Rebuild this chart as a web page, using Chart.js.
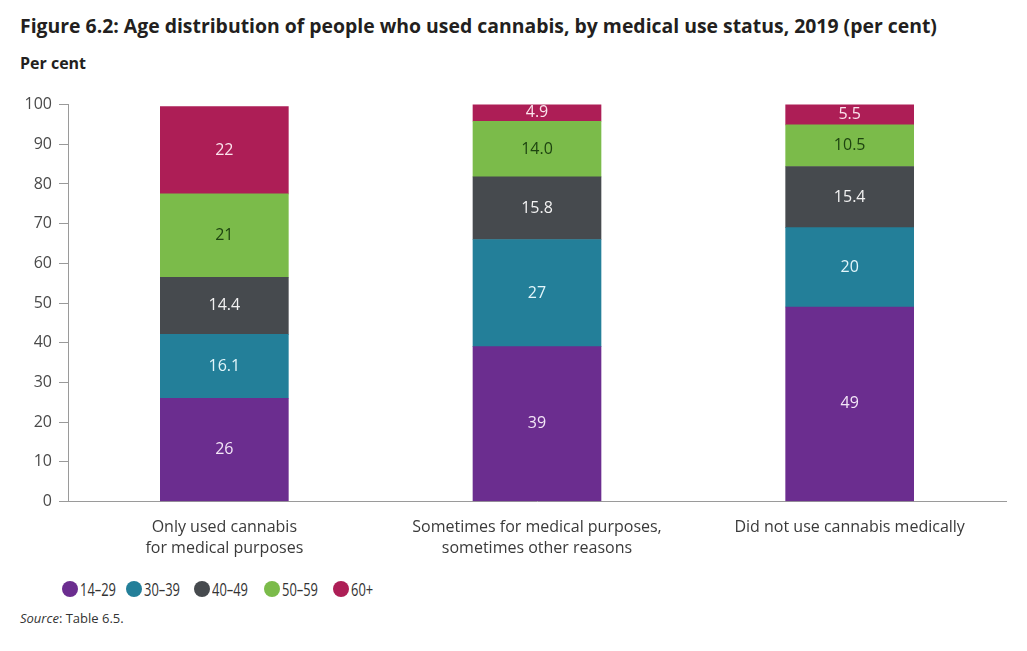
<!DOCTYPE html>
<html>
<head>
<meta charset="utf-8">
<script src="https://cdn.jsdelivr.net/npm/chart.js@4.4.1/dist/chart.umd.min.js"></script>
<style>
  body { margin: 0; width: 1027px; height: 651px; background: #fff; font-family: "Open Sans", sans-serif; position: relative; overflow: hidden; }
  .title { position: absolute; left: 20px; top: 12px; font-size: 19.4px; font-weight: 700; color: #231f20; white-space: nowrap; }
  .unit { position: absolute; left: 20px; top: 52px; font-size: 16px; font-weight: 700; color: #231f20; }
  #wrap { position: absolute; left: 0; top: 88px; width: 1027px; height: 487px; }
  #legend { position: absolute; left: 62px; top: 576px; display: flex; font-size: 19px; color: #333; }
  #legend .item { display: flex; align-items: center; height: 26px; }
  #legend .dot { width: 16px; height: 16px; border-radius: 50%; margin-right: 2px; flex: none; }
  #legend .txt { display: inline-block; transform: scaleX(0.68); transform-origin: left center; white-space: nowrap; }
  .source { position: absolute; left: 20px; top: 609px; font-size: 13px; color: #333; }
</style>
</head>
<body>
<div class="title">Figure 6.2: Age distribution of people who used cannabis, by medical use status, 2019 (per cent)</div>
<div class="unit">Per cent</div>
<div id="wrap"><canvas id="myChart"></canvas></div>
<div id="legend"></div>
<div class="source"><i>Source</i>: Table 6.5.</div>
<script>
// categories (x axis)
const categories = [
    ['Only used cannabis', 'for medical purposes'],
    ['Sometimes for medical purposes,', 'sometimes other reasons'],
    'Did not use cannabis medically'
];

// age groups
const ageGroups = ['14–29', '30–39', '40–49', '50–59', '60+'];

// series values (per cent)
const age1429 = [26, 39, 49];
const age3039 = [16.1, 27, 20];
const age4049 = [14.4, 15.8, 15.4];
const age5059 = [21, 14.0, 10.5];
const age60plus = [22, 4.9, 5.5];

// labels as printed on the bars
const text1429 = ['26', '39', '49'];
const text3039 = ['16.1', '27', '20'];
const text4049 = ['14.4', '15.8', '15.4'];
const text5059 = ['21', '14.0', '10.5'];
const text60plus = ['22', '4.9', '5.5'];

const yTicks = [0, 10, 20, 30, 40, 50, 60, 70, 80, 90, 100];

const colors = ['#6b2d8f', '#237f99', '#464a4e', '#7bbb4a', '#ad1e56'];
const labelColors = ['#f3e6f7', '#e3f6fb', '#f2f2f2', '#1e4410', '#fbe3ec'];
const legendWidths = [64, 68, 70, 69, 60];

const seriesValues = [age1429, age3039, age4049, age5059, age60plus];
const seriesTexts = [text1429, text3039, text4049, text5059, text60plus];

// draws the printed value in the middle of every segment
const segmentLabels = {
    id: 'segmentLabels',
    afterDatasetsDraw(chart) {
        const ctx = chart.ctx;
        ctx.save();
        ctx.font = '16px "Open Sans"';
        ctx.textAlign = 'center';
        ctx.textBaseline = 'middle';
        chart.data.datasets.forEach((ds, d) => {
            const meta = chart.getDatasetMeta(d);
            meta.data.forEach((bar, i) => {
                const top = Math.max(bar.y, chart.chartArea.top);
                ctx.fillStyle = labelColors[d];
                ctx.fillText(seriesTexts[d][i], bar.x, (top + bar.base) / 2);
            });
        });
        ctx.restore();
    }
};

function buildDatasets() {
    let datasets = [];
    for (let i = 0; i < ageGroups.length; i++) {
        datasets.push({
            label: ageGroups[i],
            data: seriesValues[i],
            backgroundColor: colors[i],
            borderWidth: 0,
            barThickness: 128
        });
    }
    return datasets;
}

function renderLegend() {
    let legendRef = document.getElementById('legend');
    legendRef.innerHTML = '';
    for (let i = 0; i < ageGroups.length; i++) {
        legendRef.innerHTML += `<div class="item" style="width:${legendWidths[i]}px"><span class="dot" style="background:${colors[i]}"></span><span class="txt">${ageGroups[i]}</span></div>`;
    }
}

const ctx = document.getElementById('myChart').getContext('2d');
new Chart(ctx, {
    type: 'bar',
    data: { labels: categories, datasets: buildDatasets() },
    options: {
        responsive: true,
        maintainAspectRatio: false,
        animation: false,
        layout: { padding: { left: 20, right: 21, top: 9, bottom: 0 } },
        scales: {
            x: {
                stacked: true,
                grid: { display: true, drawOnChartArea: false, drawTicks: false },
                border: { display: true, color: '#9a9a9a', width: 1 },
                ticks: {
                    padding: 16,
                    color: '#3a3a3a',
                    font: { family: 'Open Sans', size: 16, lineHeight: 1.3 },
                    maxRotation: 0,
                    autoSkip: false
                }
            },
            y: {
                stacked: true,
                min: 0,
                max: 100,
                afterFit: (scale) => { scale.width = 48; },
                afterBuildTicks: (scale) => { scale.ticks = yTicks.map(v => ({ value: v })); },
                grid: { display: true, drawOnChartArea: false, drawTicks: true, tickLength: 9, color: '#9a9a9a' },
                border: { display: true, color: '#9a9a9a', width: 1 },
                ticks: {
                    padding: 7,
                    color: '#4a4a4a',
                    font: { family: 'Open Sans', size: 16 }
                }
            }
        },
        plugins: {
            legend: { display: false },
            tooltip: { enabled: false }
        }
    },
    plugins: [segmentLabels]
});

renderLegend();
</script>
</body>
</html>
